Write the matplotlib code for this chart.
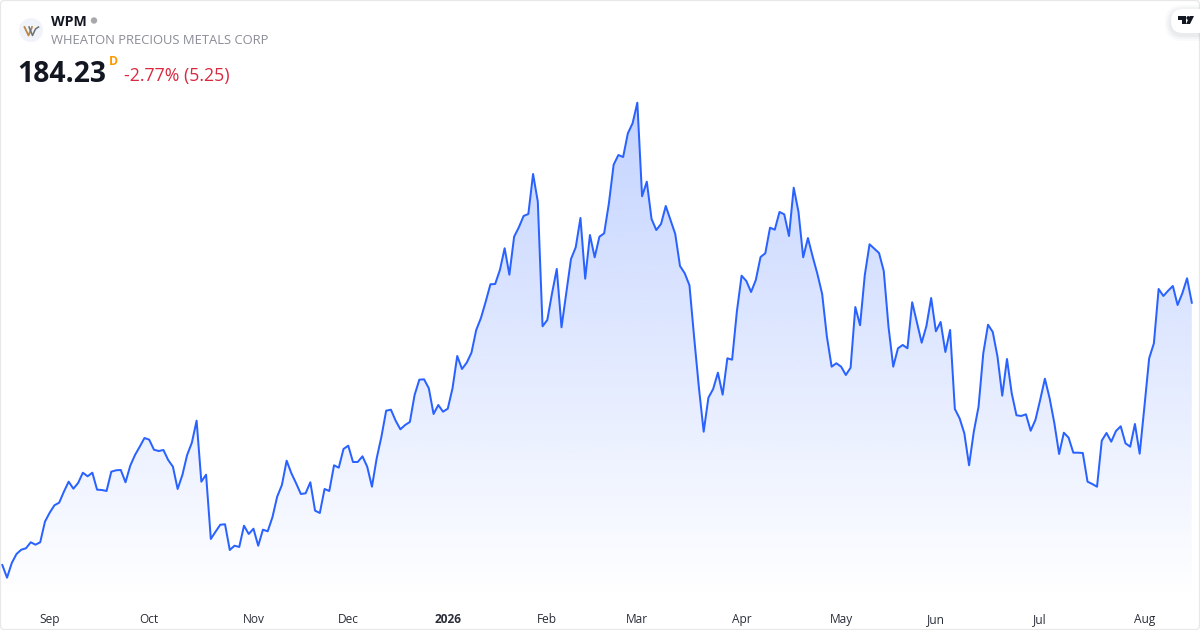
import numpy as np
import matplotlib
matplotlib.use('Agg')
import matplotlib.pyplot as plt
from matplotlib.patches import Circle, FancyBboxPatch, Polygon

plt.rcParams['font.family'] = ['Open Sans', 'DejaVu Sans']

ticker = 'WPM'
name = 'WHEATON PRECIOUS METALS CORP'
last_price = '184.23'
change = '-2.77% (5.25)'

# daily closes
close = [
    127.78, 125.05, 128.21, 130.15, 131.07, 131.38, 132.67, 132.15, 132.67, 137.10,
    139.04, 140.63, 141.19, 143.56, 145.71, 144.20, 145.43, 147.64, 146.87, 147.64,
    143.99, 143.92, 143.71, 147.86, 148.16, 148.23, 145.58, 149.15, 151.45, 153.24,
    155.11, 154.75, 152.59, 152.31, 152.53, 150.38, 148.94, 144.14, 147.15, 151.45,
    154.10, 158.84, 145.71, 147.21, 133.38, 134.95, 136.45, 136.54, 131.01, 131.93,
    131.66, 136.24, 134.45, 135.59, 131.93, 135.38, 135.03, 138.05, 142.48, 145.00,
    150.23, 147.52, 145.36, 143.06, 143.21, 145.58, 139.47, 138.97, 144.14, 143.71,
    149.24, 148.72, 152.75, 153.46, 149.95, 149.95, 151.17, 148.94, 144.63, 150.74,
    155.39, 160.99, 161.20, 158.84, 156.98, 157.91, 158.56, 164.37, 167.66, 167.74,
    165.81, 160.28, 162.21, 160.77, 161.42, 165.81, 172.76, 169.96, 171.32, 173.47,
    178.35, 180.94, 184.44, 188.19, 188.25, 191.27, 195.94, 190.25, 198.43, 200.46,
    202.89, 203.32, 211.93, 205.96, 179.15, 180.51, 186.25, 191.48, 178.93, 186.25,
    193.63, 196.15, 202.46, 189.39, 198.80, 194.00, 198.43, 199.16, 205.62, 213.93,
    216.01, 215.58, 220.68, 222.84, 227.27, 207.13, 210.27, 202.24, 199.87, 201.17,
    205.04, 202.03, 199.01, 192.13, 190.56, 187.97, 176.63, 165.87, 156.47, 163.79,
    165.66, 169.17, 164.43, 172.26, 171.96, 182.29, 190.04, 188.90, 186.53, 189.11,
    194.06, 194.86, 200.37, 199.94, 203.75, 203.25, 198.58, 208.98, 203.81, 194.00,
    198.15, 194.13, 190.41, 186.10, 176.91, 170.46, 171.19, 170.46, 168.67, 170.24,
    183.30, 179.37, 190.19, 196.80, 195.85, 194.92, 191.05, 179.06, 170.46, 174.42,
    175.13, 174.42, 184.32, 179.92, 175.62, 179.21, 185.24, 178.07, 180.08, 173.62,
    178.35, 161.35, 159.35, 156.12, 149.24, 156.47, 161.85, 173.34, 179.49, 177.92,
    172.61, 164.22, 172.11, 164.73, 160.00, 159.85, 160.21, 156.68, 158.99, 163.29,
    167.87, 163.66, 158.28, 151.67, 156.25, 155.18, 151.95, 151.95, 151.88, 145.71,
    145.21, 144.63, 154.53, 156.19, 154.32, 156.62, 157.63, 153.97, 153.24, 158.13,
    151.73, 161.85, 172.26, 175.49, 187.18, 185.67, 186.81, 187.82, 183.73, 186.25,
    189.48, 184.23,
]
tick_idx = [10, 31, 53, 73, 94, 115, 134, 156, 177, 197, 219, 241]
tick_labels = ['Sep', 'Oct', 'Nov', 'Dec', '2026', 'Feb', 'Mar', 'Apr', 'May', 'Jun', 'Jul', 'Aug']

days = np.arange(len(close))

fig = plt.figure(figsize=(12, 6.3), dpi=100, facecolor='white')
ax = fig.add_axes([0, 0, 1, 1])

# area under the line, blue fading out to the bottom of the pane
base = 120.25
fill = ax.fill_between(days, close, base, facecolor='none', edgecolor='none')
grad = np.zeros((256, 1, 4))
grad[:, 0, 0] = 41 / 255
grad[:, 0, 1] = 98 / 255
grad[:, 0, 2] = 1.0
grad[:, 0, 3] = np.linspace(0.28, 0, 256)
im = ax.imshow(grad, extent=[0, len(close) - 1, base, max(close)], aspect='auto', zorder=1)
im.set_clip_path(fill.get_paths()[0], ax.transData)

ax.plot(days, close, color='#2962FF', lw=1.44, zorder=2, solid_joinstyle='round')

ax.set_xlim(-0.485, 252.73)
ax.set_ylim(113.79, 249.37)
for s in ax.spines.values():
    s.set_visible(False)
ax.set_yticks([])
ax.set_xticks(tick_idx)
ax.set_xticklabels(tick_labels, fontsize=8.6, color='#2a2e39')
ax.tick_params(axis='x', length=0, pad=-12.4)
ax.get_xticklabels()[4].set_fontweight('bold')

# overlay in pixels for header, logo and frame
ov = fig.add_axes([0, 0, 1, 1])
ov.set_xlim(0, 1200)
ov.set_ylim(630, 0)
ov.axis('off')
ov.patch.set_alpha(0)

ov.add_patch(FancyBboxPatch((0.5, 0.5), 1199, 629, boxstyle='round,pad=0,rounding_size=4',
                            fc='none', ec='#e8e8e8', lw=0.9))

ov.add_patch(Circle((31, 30), 12, fc='#f0f3fa', ec='none'))
ov.plot([24.5, 28.5, 32], [27, 35.5, 27], color='#b98a45', lw=1.3)
ov.plot([29, 32.5, 35.5, 38.5], [27, 35.5, 29, 27], color='#6f6f72', lw=1.1)

ov.text(51, 22, ticker, fontsize=10.2, fontweight='bold', color='#131722', va='center')
ov.add_patch(Circle((94, 20.5), 3.2, fc='#a8a8a8', ec='none'))
ov.text(51, 41, name, fontsize=9.4, color='#8a8d96', va='center')
ov.text(17.5, 74, last_price, fontsize=20.3, fontweight='bold', color='#131722', va='center')
ov.text(109, 61.5, 'D', fontsize=8.8, fontweight='bold', color='#ff9800', va='center')
ov.text(124, 75.5, change, fontsize=12.8, color='#d9293f', va='center')

# TradingView badge top right, soft shadow under a white pill
for grow, a in [(6, 0.05), (4, 0.07), (2, 0.09)]:
    ov.add_patch(FancyBboxPatch((1171 - grow, 11 - grow), 60, 24 + 2 * grow,
                                boxstyle='round,pad=0,rounding_size=%d' % (12 + grow),
                                fc='#9aa0ad', ec='none', alpha=a))
ov.add_patch(FancyBboxPatch((1171, 9), 60, 24, boxstyle='round,pad=0,rounding_size=12',
                            fc='white', ec='none'))
ov.add_patch(Polygon([(1177.5, 16), (1186, 16), (1186, 24), (1182, 24), (1182, 19.5), (1177.5, 19.5)],
                     fc='#131722', ec='none'))
ov.add_patch(Circle((1188.3, 18), 1.9, fc='#131722', ec='none'))
ov.add_patch(Polygon([(1190, 16), (1194, 16), (1190, 24), (1186, 24)], fc='#131722', ec='none'))

fig.savefig('out.png', dpi=100, facecolor='white')
